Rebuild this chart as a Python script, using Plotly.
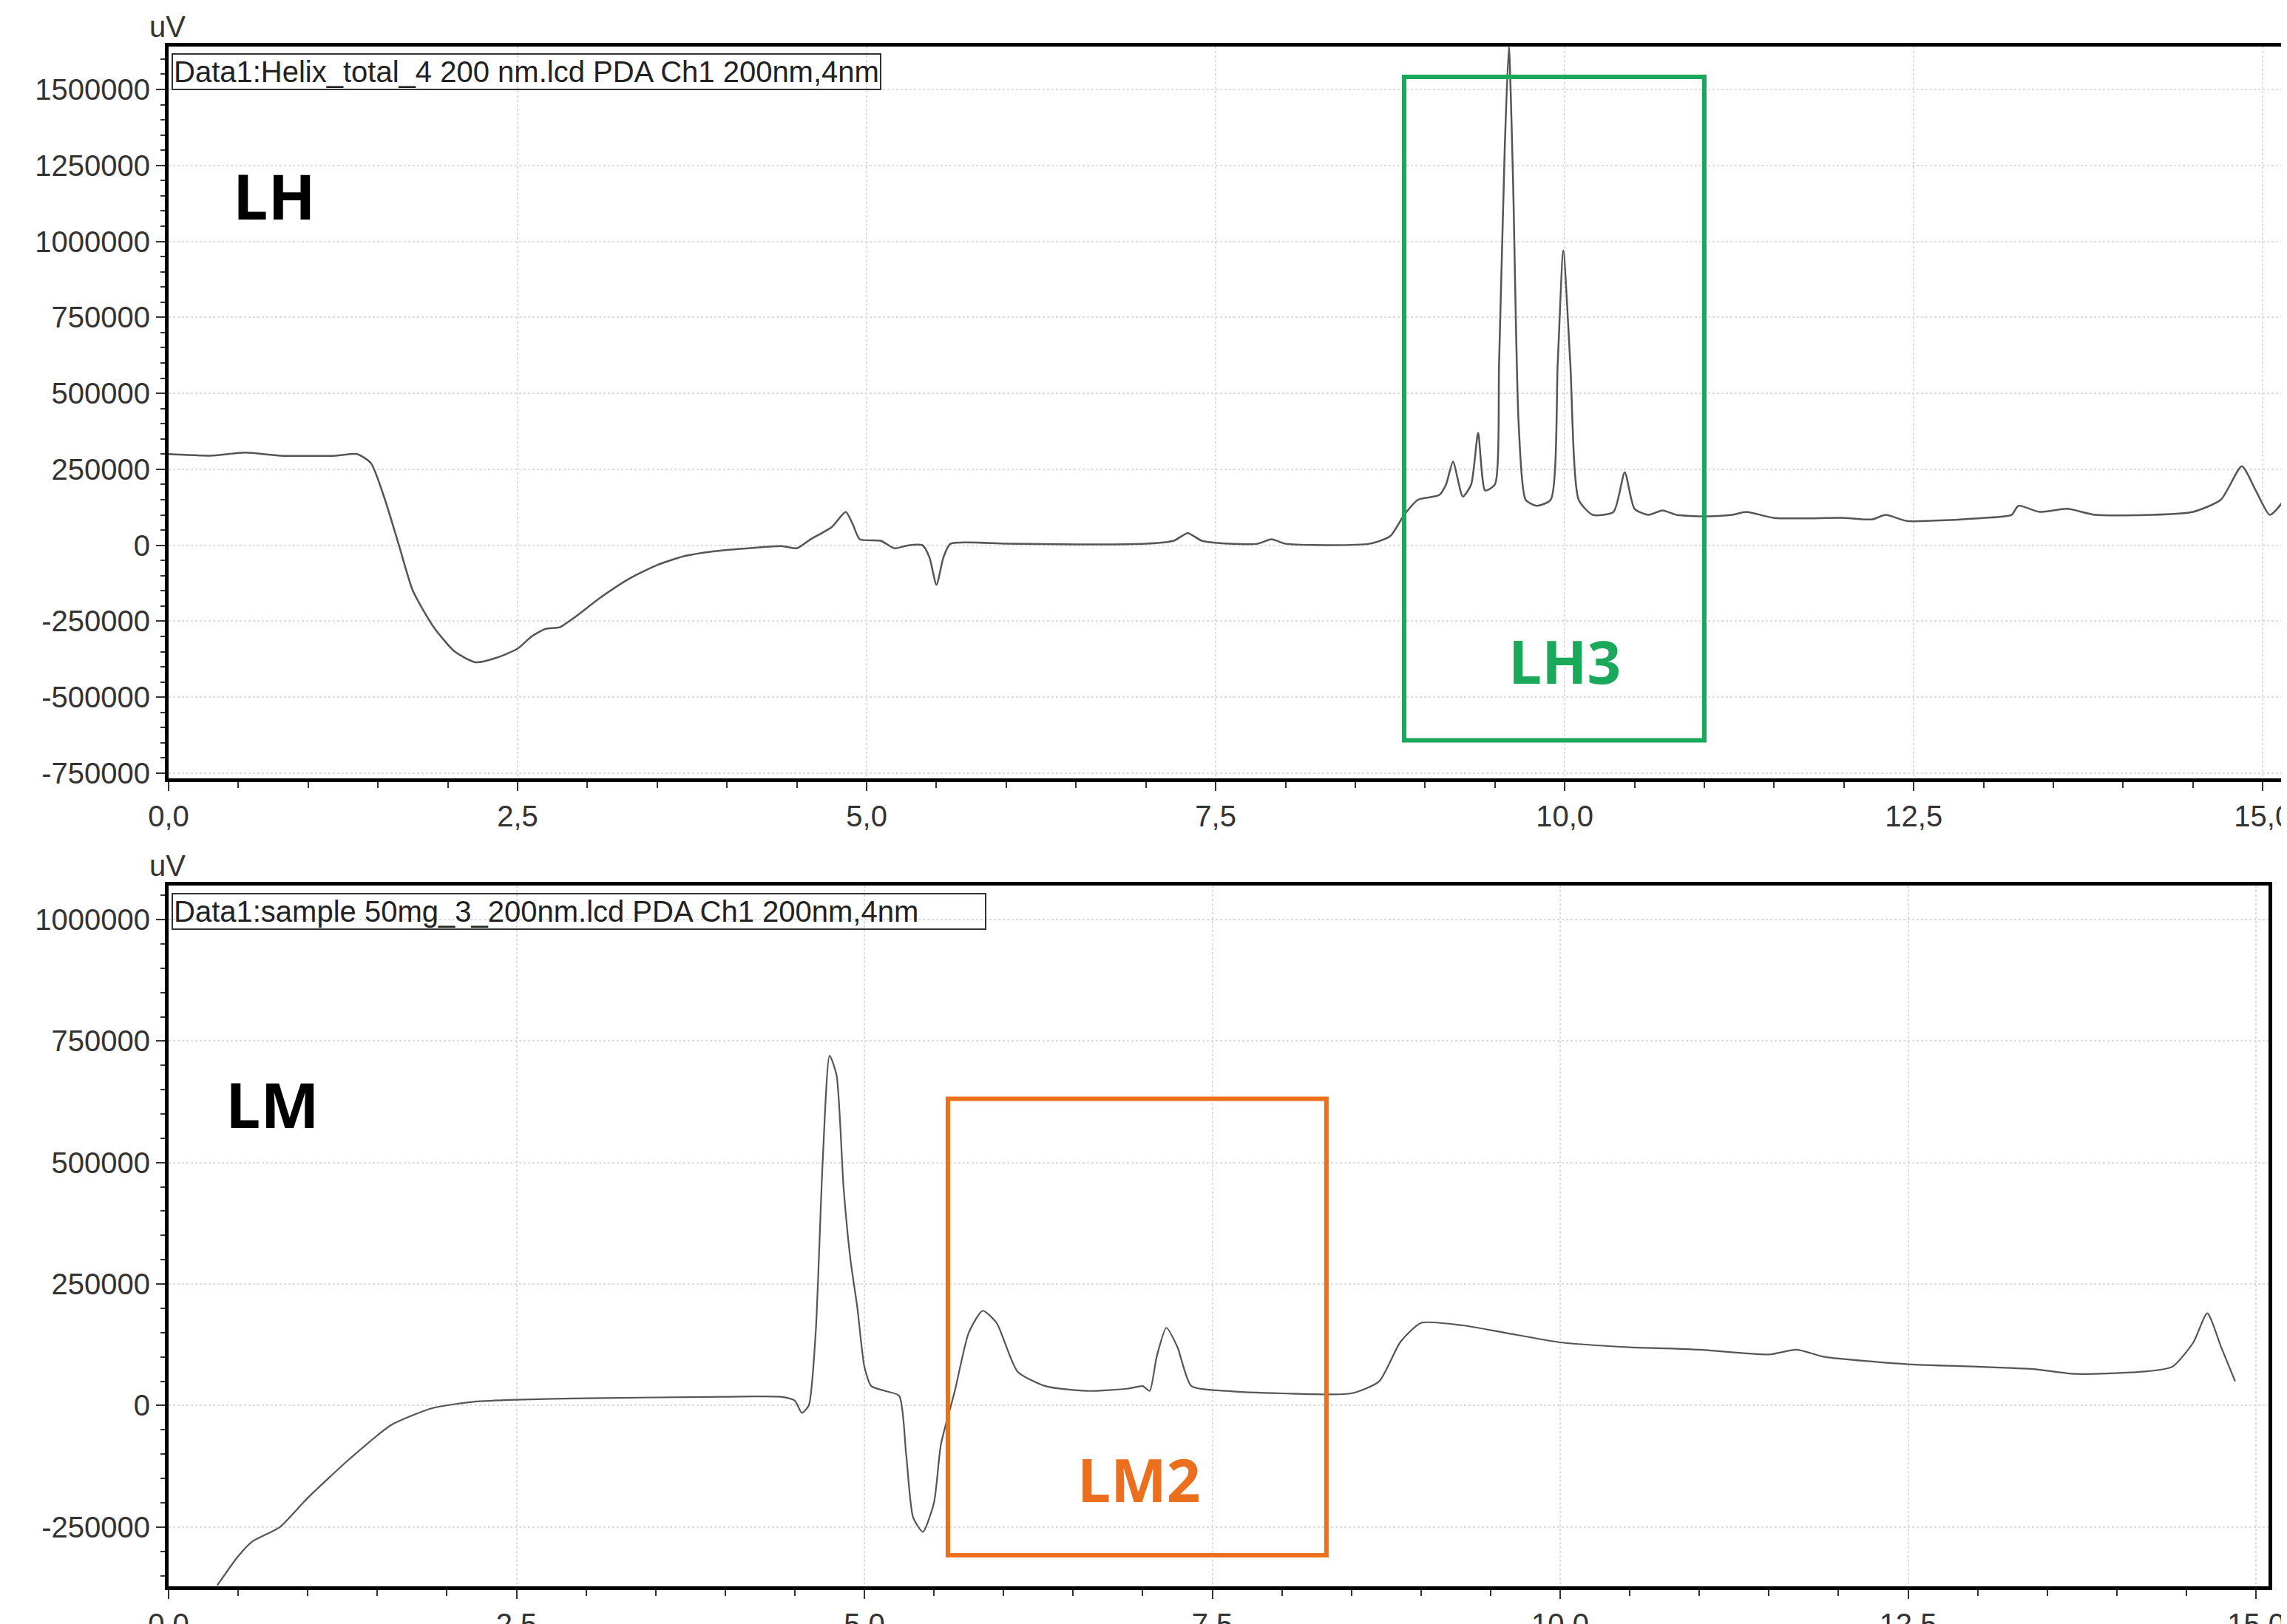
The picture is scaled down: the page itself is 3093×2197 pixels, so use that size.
import plotly.graph_objects as go

lh_t = [0,0.3,0.55,0.8,1.2,1.35,1.45,1.55,1.65,1.75,1.9,2.05,2.2,2.35,2.5,2.6,2.7,2.8,2.9,3.1,3.3,3.5,3.7,3.9,4.2,4.4,4.5,4.6,4.75,4.85,4.9,4.95,5.1,5.2,5.3,5.4,5.45,5.5,5.55,5.6,6,6.5,7,7.2,7.3,7.4,7.6,7.8,7.9,8.0,8.6,8.75,8.85,8.95,9.1,9.15,9.2,9.27,9.33,9.38,9.43,9.5,9.53,9.57,9.6,9.63,9.67,9.72,9.8,9.9,9.95,9.99,10.04,10.1,10.2,10.35,10.43,10.5,10.6,10.7,10.8,11.0,11.2,11.3,11.5,12,12.2,12.3,12.45,13,13.2,13.25,13.4,13.6,13.8,14.2,14.5,14.7,14.85,14.95,15.05,15.15,15.25]
lh_v = [300000,295000,305000,295000,295000,300000,270000,150000,0,-150000,-270000,-350000,-385000,-370000,-340000,-300000,-275000,-270000,-240000,-170000,-110000,-65000,-35000,-20000,-8000,-3000,-10000,20000,60000,110000,70000,20000,15000,-10000,0,0,-40000,-130000,-40000,5000,5000,3000,5000,15000,40000,15000,5000,5000,20000,5000,5000,30000,100000,150000,165000,200000,275000,160000,200000,370000,180000,200000,600000,1300000,1640000,1200000,400000,150000,130000,150000,600000,970000,600000,150000,100000,110000,240000,120000,100000,115000,100000,95000,100000,110000,90000,90000,85000,100000,80000,90000,100000,130000,110000,120000,100000,100000,110000,150000,260000,180000,100000,150000,440000]

lm_t = [0.35,0.5,0.6,0.8,1.0,1.3,1.6,1.9,2.2,2.5,3.0,4.0,4.4,4.5,4.55,4.6,4.65,4.7,4.75,4.8,4.85,4.9,4.95,5.0,5.05,5.15,5.25,5.3,5.35,5.42,5.5,5.55,5.65,5.75,5.85,5.95,6.1,6.3,6.6,6.9,7.0,7.05,7.1,7.17,7.25,7.35,7.6,8.0,8.5,8.7,8.85,9.0,9.3,9.6,10,10.5,11,11.5,11.7,11.9,12.5,13,13.4,13.7,14.2,14.4,14.55,14.65,14.75,14.85]
lm_v = [-370000,-310000,-280000,-250000,-190000,-110000,-40000,-5000,8000,12000,15000,18000,18000,10000,-15000,0,150000,500000,720000,680000,450000,300000,200000,80000,40000,30000,20000,-100000,-230000,-260000,-200000,-80000,30000,150000,195000,170000,70000,40000,30000,35000,40000,30000,100000,160000,120000,40000,30000,25000,25000,50000,130000,170000,165000,150000,130000,120000,115000,105000,115000,100000,85000,80000,75000,65000,70000,80000,130000,190000,120000,50000]

x_ticks = [0, 2.5, 5, 7.5, 10, 12.5, 15]
x_labels = ["0,0", "2,5", "5,0", "7,5", "10,0", "12,5", "15,0"]
lh_yticks = [-750000, -500000, -250000, 0, 250000, 500000, 750000, 1000000, 1250000, 1500000]
lm_yticks = [-250000, 0, 250000, 500000, 750000, 1000000]

W, H = 3093, 2197
fig = go.Figure()
fig.add_trace(go.Scatter(x=lh_t, y=lh_v, mode="lines", line=dict(color="#555555", width=2.5, shape="spline", smoothing=0.6), xaxis="x", yaxis="y", showlegend=False))
fig.add_trace(go.Scatter(x=lm_t, y=lm_v, mode="lines", line=dict(color="#555555", width=2.2, shape="spline", smoothing=0.6), xaxis="x2", yaxis="y2", showlegend=False))

axfont = dict(family="Liberation Sans Narrow, Liberation Sans, Arial", size=40, color="#333333")
common = dict(showline=True, linecolor="black", linewidth=5, mirror=True, ticks="outside", automargin=False,
              tickcolor="#333", tickwidth=2, ticklen=12, tickfont=axfont, zeroline=False,
              gridcolor="#dddddd", griddash="dot", gridwidth=2)
fig.update_layout(
    width=W, height=H, margin=dict(l=0, r=0, t=0, b=0), plot_bgcolor="white", paper_bgcolor="white",
    xaxis=dict(domain=[220/W, 3090/W], range=[0, 15.2], tickvals=x_ticks, ticktext=x_labels,
               minor=dict(dtick=0.5, ticks="outside", ticklen=8, tickcolor="#333"), anchor="y", **common),
    yaxis=dict(domain=[1-1045/H, 1-55/H], range=[-767000, 1641000], tickvals=lh_yticks, ticktext=[str(v) for v in lh_yticks],
               minor=dict(dtick=50000, ticks="outside", ticklen=6, tickcolor="#333"), anchor="x", **common),
    xaxis2=dict(domain=[220/W, 3060/W], range=[0, 15.09], tickvals=x_ticks, ticktext=x_labels,
                minor=dict(dtick=0.5, ticks="outside", ticklen=8, tickcolor="#333"), anchor="y2", **common),
    yaxis2=dict(domain=[1-2138/H, 1-1190/H], range=[-372000, 1070000], tickvals=lm_yticks, ticktext=[str(v) for v in lm_yticks],
                minor=dict(dtick=50000, ticks="outside", ticklen=6, tickcolor="#333"), anchor="x2", **common),
)

fig.add_shape(type="rect", xref="x", yref="y", x0=8.85, x1=11.0, y0=-642000, y1=1541000, line=dict(color="#1aa85a", width=6))
fig.add_shape(type="rect", xref="x2", yref="y2", x0=5.6, x1=8.32, y0=-308000, y1=631000, line=dict(color="#ec6f1e", width=6))

boxfont = dict(size=40, color="#222", family="Liberation Sans Narrow, Liberation Sans")
ann = [
    dict(x=10.0, y=-380000, xref="x", yref="y", text="<b>LH3</b>", font=dict(size=80, color="#1aa85a", family="Open Sans")),
    dict(x=6.97, y=-150000, xref="x2", yref="y2", text="<b>LM2</b>", font=dict(size=80, color="#ec6f1e", family="Open Sans")),
    dict(x=0.45, y=1150000, xref="x", yref="y", text="<b>LH</b>", xanchor="left", font=dict(size=84, color="black", family="Open Sans")),
    dict(x=0.4, y=620000, xref="x2", yref="y2", text="<b>LM</b>", xanchor="left", font=dict(size=84, color="black", family="Open Sans")),
    dict(x=0.02, y=1620000, xref="x", yref="y", text="Data1:Helix_total_4 200 nm.lcd PDA Ch1 200nm,4nm", xanchor="left", yanchor="top",
         font=boxfont, bordercolor="#333", borderwidth=2, borderpad=1),
    dict(x=0.02, y=1055000, xref="x2", yref="y2", text="Data1:sample 50mg_3_200nm.lcd PDA Ch1 200nm,4nm        ", xanchor="left", yanchor="top",
         font=boxfont, bordercolor="#333", borderwidth=2, borderpad=1),
    dict(x=218/W, y=1-52/H, xref="paper", yref="paper", text="uV", xanchor="center", yanchor="bottom", font=axfont),
    dict(x=218/W, y=1-1187/H, xref="paper", yref="paper", text="uV", xanchor="center", yanchor="bottom", font=axfont),
]
for a in ann:
    a.setdefault("showarrow", False)
    fig.add_annotation(**a)

fig.write_html("out.html")
